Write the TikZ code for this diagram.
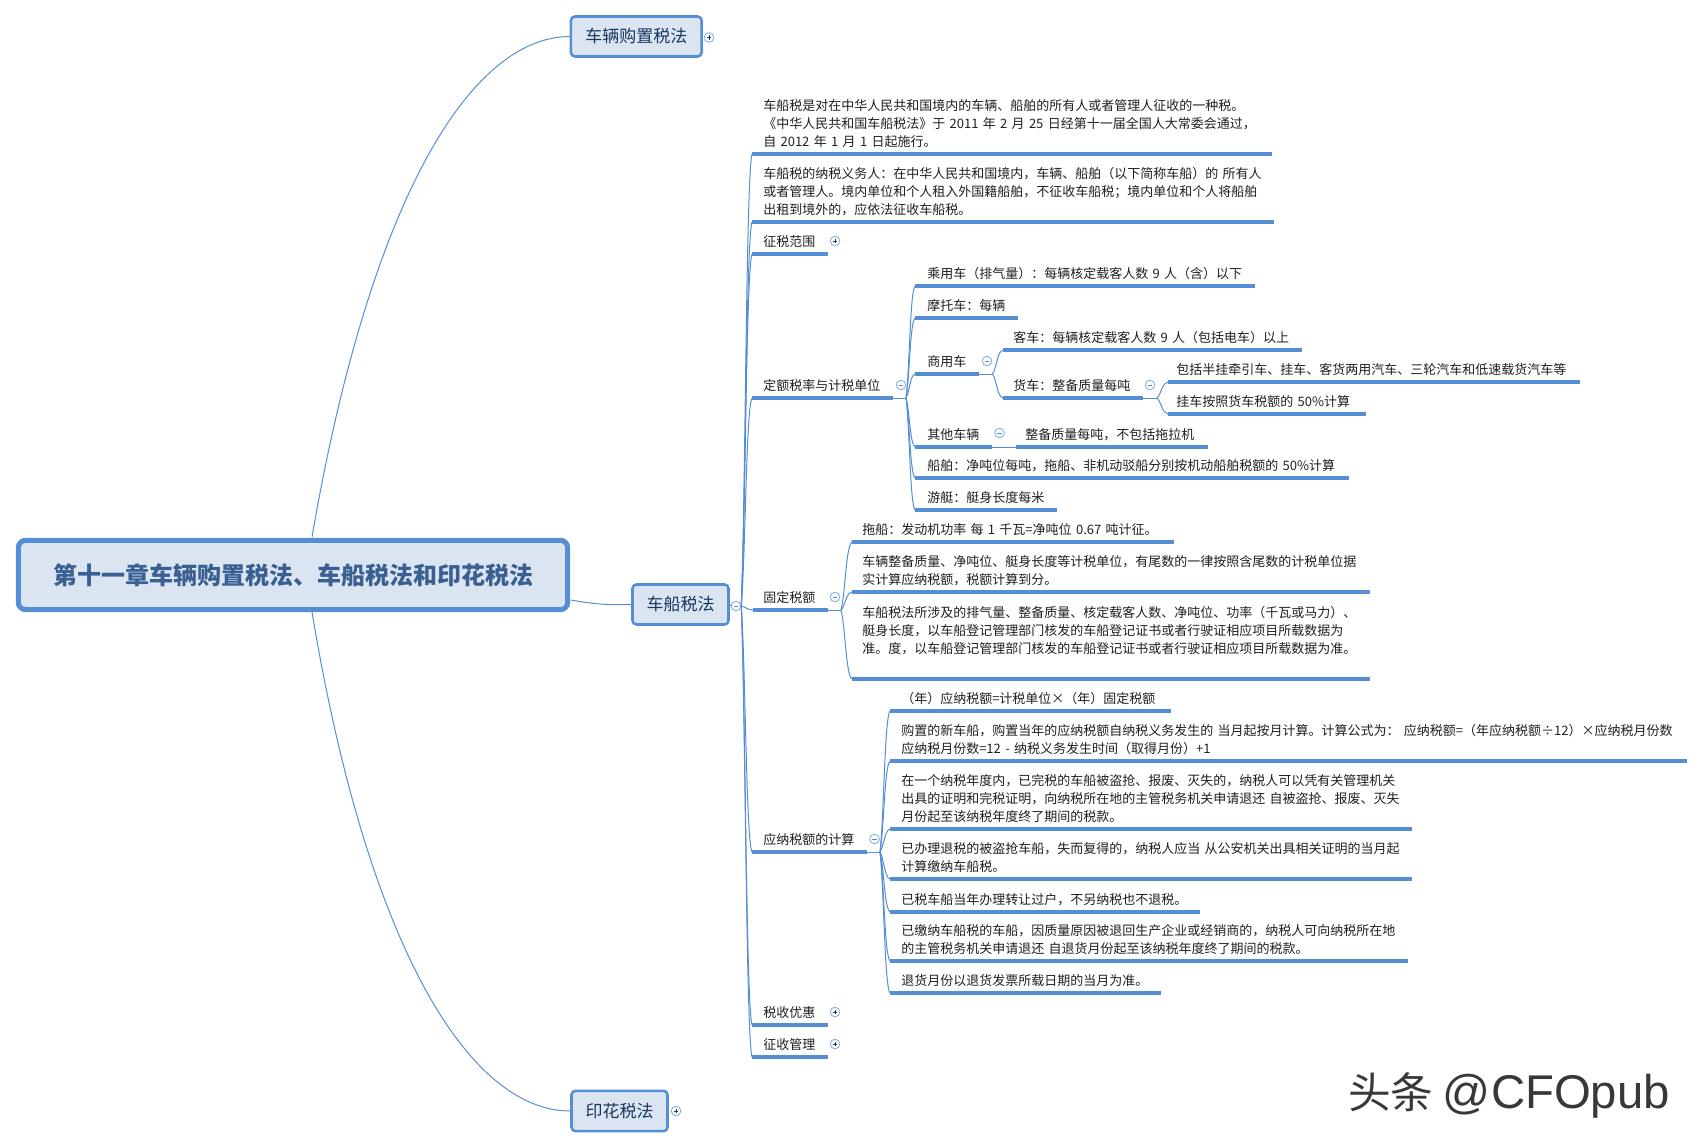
\documentclass[tikz,border=0pt]{standalone}
\usepackage{fontspec}
\setmainfont{Noto Sans CJK SC}
\newfontfamily\wmlatin{Liberation Sans}
\usetikzlibrary{calc}
\definecolor{xline}{HTML}{558ED5}
\definecolor{xfill}{HTML}{DBE5F1}
\definecolor{xtext}{HTML}{17375E}
\definecolor{xhead}{HTML}{3A5F92}
\definecolor{xmark}{HTML}{8DB3E2}
\tikzset{
  x=0.75pt,y=-0.75pt,
  topicbox/.style={draw=xline,fill=xfill,line width=1.9pt,rounded corners=3pt,text=xtext,inner sep=0pt,
    font=\fontsize{12.75}{15}\selectfont},
  rootbox/.style={draw=xline,fill=xfill,line width=3.8pt,rounded corners=5.5pt,text=xhead,inner sep=0pt,
    font=\fontsize{18}{22}\selectfont\bfseries},
  itemnode/.style={anchor=south west,inner ysep=1.3pt,align=left,text=black!88,
    font=\fontsize{9.75}{13.5}\selectfont},
  underl/.style={draw=xline,line width=2.6pt},
  linkline/.style={draw=xline,line width=0.75pt},
  markbase/.style={circle,draw=xmark,fill=white,line width=0.7pt,minimum size=7.2pt,inner sep=0pt},
  markplus/.style={markbase,path picture={
    \draw[xtext,line width=0.4pt] ($(path picture bounding box.center)+(-2.4,0)$) -- ($(path picture bounding box.center)+(2.4,0)$);
    \draw[xtext,line width=0.4pt] ($(path picture bounding box.center)+(0,-2.4)$) -- ($(path picture bounding box.center)+(0,2.4)$);}},
  markminus/.style={markbase,path picture={
    \draw[xline,line width=0.5pt] ($(path picture bounding box.center)+(-2.4,0)$) -- ($(path picture bounding box.center)+(2.4,0)$);}},
}
% name, x0, x1, underline y, text x, text
\newcommand{\topicitem}[6]{%
  \pgfmathsetmacro{\ipad}{(#5-#2)*0.75}%
  \pgfmathsetmacro{\twid}{(#3-#2)*0.75-2*\ipad}%
  \node[itemnode,inner xsep=\ipad pt,text width=\twid pt] (#1) at (#2,#4) {#6\strut};
  \draw[underl] (#1.south west) -- (#1.south east);
}
\newcommand{\branch}[2]{%
  \draw[linkline] let \p1=(#1),\p2=(#2.south west) in
    (\p1) .. controls ({\x1+0.4*\x2-0.4*\x1},{\y1+0.25*\y2-0.25*\y1})
    and ({\x1+0.45*\x2-0.45*\x1},{\y1+0.95*\y2-0.95*\y1}) .. (\p2);
}
\begin{document}
\begin{tikzpicture}
\useasboundingbox (0,0) rectangle (1703,1148);
% main boxes
\node[rootbox,minimum width=412pt,minimum height=52pt] (root) at (293,575) {第十一章车辆购置税法、车船税法和印花税法};
\node[topicbox,minimum width=98pt,minimum height=30pt] (gouzhi) at (636.3,36.5) {车辆购置税法};
\node[topicbox,minimum width=72pt,minimum height=30pt] (chechuan) at (680.5,604.5) {车船税法};
\node[topicbox,minimum width=72pt,minimum height=30.3pt] (yinhua) at (619.5,1111) {印花税法};
\node[markplus] (mgouzhi) at (709,37.5) {};
\node[markminus] (mchechuan) at (736,606) {};
\node[markplus] (myinhua) at (676,1111) {};
\coordinate (roottop) at (312,537);
\coordinate (rootbot) at (312,612);
\coordinate (rootright) at (571,600);
\draw[linkline] (gouzhi.west) .. controls (470,37) and (370,200) .. (roottop);
\draw[linkline] (yinhua.west) .. controls (470,1111) and (368,949) .. (rootbot);
\draw[linkline] (rootright) .. controls (595,604.5) and (610,605) .. (chechuan.west);
\draw[linkline] (chechuan.east) -- (mchechuan.west);

% level one
\topicitem{a}{752}{1271}{154}{763}{车船税是对在中华人民共和国境内的车辆、船舶的所有人或者管理人征收的一种税。\\《中华人民共和国车船税法》于 2011 年 2 月 25 日经第十一届全国人大常委会通过，\\自 2012 年 1 月 1 日起施行。}
\topicitem{b}{752}{1273}{222}{763}{车船税的纳税义务人：在中华人民共和国境内，车辆、船舶（以下简称车船）的 所有人\\或者管理人。境内单位和个人租入外国籍船舶，不征收车船税；境内单位和个人将船舶\\出租到境外的，应依法征收车船税。}
\topicitem{c}{752}{827.5}{254}{763}{征税范围}
\topicitem{d}{752}{892}{398}{763}{定额税率与计税单位}
\topicitem{e}{753}{827}{610}{763}{固定税额}
\topicitem{f}{752}{866}{852}{763}{应纳税额的计算}
\topicitem{g}{752}{827}{1025}{763}{税收优惠}
\topicitem{h}{752}{827}{1057}{763}{征收管理}
\node[markplus] (mc) at (835,241) {};
\node[markminus] (md) at (901,385) {};
\node[markminus] (me) at (835,597) {};
\node[markminus] (mf) at (874.5,839) {};
\node[markplus] (mg) at (835,1012) {};
\node[markplus] (mh) at (835,1044) {};
\foreach \t in {a,b,c,d,e,f,g,h} {\branch{mchechuan.east}{\t}}

% fixed-rate branch
\coordinate (bd) at (906,398);
\draw[linkline] (d.south east) -- (bd);
\topicitem{d1}{915}{1254}{286}{927}{乘用车（排气量）：每辆核定载客人数 9 人（含）以下}
\topicitem{d2}{915}{1017}{318}{927}{摩托车：每辆}
\topicitem{d3}{915}{978}{374}{927}{商用车}
\topicitem{d4}{915}{991}{447}{927}{其他车辆}
\topicitem{d5}{915}{1348.5}{478}{927}{船舶：净吨位每吨，拖船、非机动驳船分别按机动船舶税额的 50\%计算}
\topicitem{d6}{915}{1056}{510}{927}{游艇：艇身长度每米}
\node[markminus] (md3) at (987,361) {};
\node[markminus] (md4) at (999.5,433) {};
\foreach \t in {d1,d2,d3,d4,d5,d6} {\branch{bd}{\t}}

\coordinate (bd3) at (992.5,374);
\draw[linkline] (d3.south east) -- (bd3);
\topicitem{k1}{1003}{1301}{350}{1013}{客车：每辆核定载客人数 9 人（包括电车）以上}
\topicitem{k2}{1003}{1142}{398}{1013}{货车：整备质量每吨}
\node[markminus] (mk2) at (1150,385) {};
\branch{bd3}{k1}
\branch{bd3}{k2}

\coordinate (bk2) at (1157,398);
\draw[linkline] (k2.south east) -- (bk2);
\topicitem{t1}{1168}{1579}{382}{1176}{包括半挂牵引车、挂车、客货两用汽车、三轮汽车和低速载货汽车等}
\topicitem{t2}{1168}{1365}{414}{1176}{挂车按照货车税额的 50\%计算}
\branch{bk2}{t1}
\branch{bk2}{t2}

\topicitem{q1}{1015.5}{1207}{447}{1025}{整备质量每吨，不包括拖拉机}
\draw[linkline] (d4.south east) -- (q1.south west);

% fixed-amount branch
\coordinate (be) at (841,610);
\draw[linkline] (e.south east) -- (be);
\topicitem{e1}{852}{1173.5}{542}{862}{拖船：发动机功率 每 1 千瓦=净吨位 0.67 吨计征。}
\topicitem{e2}{852}{1369}{592}{862}{车辆整备质量、净吨位、艇身长度等计税单位，有尾数的一律按照含尾数的计税单位据\\实计算应纳税额，税额计算到分。}
\topicitem{e3}{852}{1369}{679}{862}{车船税法所涉及的排气量、整备质量、核定载客人数、净吨位、功率（千瓦或马力）、\\艇身长度，以车船登记管理部门核发的车船登记证书或者行驶证相应项目所载数据为\\准。度，以车船登记管理部门核发的车船登记证书或者行驶证相应项目所载数据为准。\\\mbox{}}
\foreach \t in {e1,e2,e3} {\branch{be}{\t}}

% computation branch
\coordinate (bf) at (880,852);
\draw[linkline] (f.south east) -- (bf);
\topicitem{f1}{890}{1170}{711}{901}{（年）应纳税额=计税单位×（年）固定税额}
\topicitem{f2}{890}{1686}{761}{901}{\mbox{购置的新车船，购置当年的应纳税额自纳税义务发生的 当月起按月计算。计算公式为： 应纳税额=（年应纳税额÷12）×应纳税月份数}\\应纳税月份数=12 - 纳税义务发生时间（取得月份）+1}
\topicitem{f3}{890}{1411}{829}{901}{在一个纳税年度内，已完税的车船被盗抢、报废、灭失的，纳税人可以凭有关管理机关\\出具的证明和完税证明，向纳税所在地的主管税务机关申请退还 自被盗抢、报废、灭失\\月份起至该纳税年度终了期间的税款。}
\topicitem{f4}{890}{1411}{879}{901}{已办理退税的被盗抢车船，失而复得的，纳税人应当 从公安机关出具相关证明的当月起\\计算缴纳车船税。}
\topicitem{f5}{890}{1199}{912}{901}{已税车船当年办理转让过户，不另纳税也不退税。}
\topicitem{f6}{890}{1407}{961}{901}{已缴纳车船税的车船，因质量原因被退回生产企业或经销商的，纳税人可向纳税所在地\\的主管税务机关申请退还 自退货月份起至该纳税年度终了期间的税款。}
\topicitem{f7}{890}{1160}{993}{901}{退货月份以退货发票所载日期的当月为准。}
\foreach \t in {f1,f2,f3,f4,f5,f6,f7} {\branch{bf}{\t}}

% watermark
\node[text=black!78,inner sep=0pt] (mark) at (1509,1095) {\fontsize{32}{36}\selectfont 头条 \fontsize{35.5}{40}\selectfont\wmlatin @CFOpub};
\end{tikzpicture}
\end{document}
